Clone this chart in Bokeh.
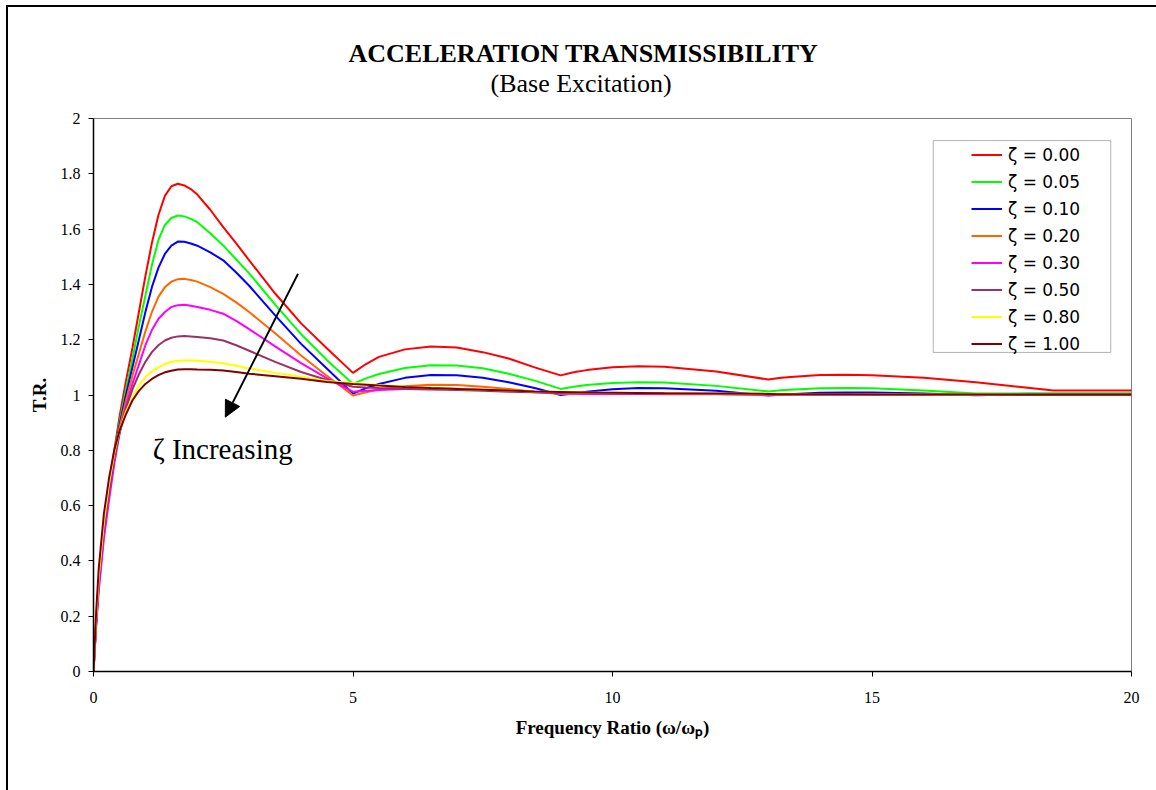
from bokeh.plotting import figure
from bokeh.models import (Legend, LegendItem, Arrow, NormalHead, Label, FixedTicker,
                          Range1d, BoxAnnotation, Title)
from bokeh.embed import file_html
from bokeh.resources import INLINE

# ---------------- data ----------------
x_ratio = [0, 0.05, 0.1, 0.2, 0.3, 0.4, 0.5, 0.625, 0.75, 0.875,
           1.0, 1.125, 1.25, 1.375, 1.5, 1.625, 1.75, 1.875, 2.0,
           2.25, 2.5, 2.75, 3.0,
           3.5, 4.0, 4.5, 5.0,
           5.25, 5.5, 6.0, 6.5, 7.0, 7.5, 8.0, 8.5, 9.0,
           9.25, 9.5, 10.0, 10.5, 11.0, 12.0, 13.0,
           13.25, 13.5, 14.0, 14.5, 15.0, 16.0, 17.0, 18.0, 18.5, 20.0]

tr_z000 = [0, 0.18, 0.33, 0.53, 0.67, 0.80, 0.92, 1.05, 1.17, 1.30,
           1.43, 1.55, 1.65, 1.72, 1.755, 1.764, 1.758, 1.745, 1.725,
           1.67, 1.607, 1.548, 1.487,
           1.367, 1.259, 1.168, 1.08,
           1.112, 1.138, 1.165, 1.175, 1.172, 1.155, 1.132, 1.10, 1.071,
           1.082, 1.090, 1.100, 1.104, 1.102, 1.085, 1.056,
           1.062, 1.066, 1.072, 1.073, 1.071, 1.062, 1.046, 1.026, 1.016, 1.016]
tr_z005 = [0, 0.17, 0.32, 0.52, 0.66, 0.79, 0.90, 1.02, 1.13, 1.25,
           1.36, 1.47, 1.56, 1.615, 1.64, 1.649, 1.646, 1.637, 1.625,
           1.585, 1.541, 1.49, 1.44,
           1.327, 1.22, 1.126, 1.04,
           1.06, 1.076, 1.098, 1.108, 1.107, 1.097, 1.077, 1.052, 1.022,
           1.030, 1.036, 1.043, 1.046, 1.045, 1.033, 1.013,
           1.017, 1.020, 1.024, 1.025, 1.024, 1.016, 1.005, 1.006, 1.006, 1.006]
tr_z010 = [0, 0.17, 0.31, 0.51, 0.65, 0.78, 0.89, 1.00, 1.10, 1.20,
           1.30, 1.39, 1.46, 1.51, 1.54, 1.555, 1.554, 1.548, 1.54,
           1.516, 1.487, 1.443, 1.395,
           1.288, 1.185, 1.095, 1.005,
           1.025, 1.040, 1.062, 1.072, 1.071, 1.062, 1.046, 1.025, 1.0,
           1.005, 1.012, 1.021, 1.025, 1.024, 1.015, 0.998,
           1.001, 1.004, 1.008, 1.009, 1.009, 1.005, 0.999, 1.002, 1.003, 1.003]
tr_z020 = [0, 0.17, 0.30, 0.50, 0.64, 0.77, 0.88, 0.98, 1.07, 1.15,
           1.23, 1.30, 1.355, 1.39, 1.41, 1.419, 1.42, 1.416, 1.41,
           1.39, 1.366, 1.335, 1.30,
           1.223, 1.143, 1.069, 0.998,
           1.010, 1.020, 1.032, 1.037, 1.036, 1.030, 1.022, 1.012, 1.004,
           1.004, 1.004, 1.006, 1.007, 1.007, 1.004, 1.000,
           1.001, 1.001, 1.002, 1.002, 1.002, 1.001, 1.000, 1.000, 1.000, 1.000]
tr_z030 = [0, 0.16, 0.29, 0.48, 0.62, 0.75, 0.86, 0.96, 1.04, 1.11,
           1.18, 1.235, 1.275, 1.30, 1.318, 1.325, 1.326, 1.323, 1.318,
           1.308, 1.294, 1.268, 1.238,
           1.176, 1.115, 1.060, 1.012,
           1.015, 1.018, 1.022, 1.024, 1.023, 1.019, 1.015, 1.010, 1.006,
           1.005, 1.004, 1.004, 1.004, 1.003, 1.003, 1.002,
           1.002, 1.002, 1.002, 1.002, 1.001, 1.001, 1.001, 1.001, 1.001, 1.001]
tr_z050 = [0, 0.18, 0.32, 0.51, 0.65, 0.77, 0.86, 0.95, 1.02, 1.075,
           1.12, 1.155, 1.18, 1.197, 1.207, 1.212, 1.213, 1.212, 1.21,
           1.205, 1.197, 1.18, 1.16,
           1.12, 1.083, 1.054, 1.03,
           1.027, 1.025, 1.022, 1.020, 1.018, 1.015, 1.012, 1.010, 1.008,
           1.008, 1.007, 1.006, 1.005, 1.005, 1.004, 1.003,
           1.003, 1.003, 1.002, 1.002, 1.002, 1.001, 1.001, 1.001, 1.001, 1.001]
tr_z080 = [0, 0.19, 0.34, 0.54, 0.68, 0.79, 0.87, 0.94, 0.99, 1.035,
           1.065, 1.086, 1.10, 1.112, 1.12, 1.124, 1.125, 1.125, 1.124,
           1.12, 1.115, 1.106, 1.096,
           1.080, 1.066, 1.051, 1.043,
           1.039, 1.036, 1.030, 1.026, 1.022, 1.019, 1.016, 1.013, 1.011,
           1.010, 1.009, 1.008, 1.007, 1.006, 1.005, 1.004,
           1.003, 1.003, 1.003, 1.003, 1.002, 1.002, 1.002, 1.001, 1.001, 1.001]
tr_z100 = [0, 0.21, 0.37, 0.57, 0.70, 0.80, 0.87, 0.93, 0.98, 1.015,
           1.04, 1.058, 1.072, 1.082, 1.088, 1.092, 1.093, 1.093, 1.092,
           1.091, 1.089, 1.083, 1.077,
           1.068, 1.059, 1.047, 1.040,
           1.037, 1.034, 1.029, 1.025, 1.022, 1.019, 1.016, 1.013, 1.011,
           1.010, 1.009, 1.008, 1.007, 1.006, 1.005, 1.004,
           1.003, 1.003, 1.003, 1.003, 1.002, 1.002, 1.002, 1.001, 1.001, 1.001]

series_labels = ["ζ = 0.00", "ζ = 0.05", "ζ = 0.10", "ζ = 0.20",
                 "ζ = 0.30", "ζ = 0.50", "ζ = 0.80", "ζ = 1.00"]
series_values = [tr_z000, tr_z005, tr_z010, tr_z020, tr_z030, tr_z050, tr_z080, tr_z100]
series_colors = ["#FF0000", "#00FF00", "#0000FF", "#FF6600",
                 "#FF00FF", "#993366", "#FFFF00", "#800000"]

x_ticks = [0, 5, 10, 15, 20]
y_ticks = [0, 0.2, 0.4, 0.6, 0.8, 1, 1.2, 1.4, 1.6, 1.8, 2]
y_tick_labels = ["0", "0.2", "0.4", "0.6", "0.8", "1", "1.2", "1.4", "1.6", "1.8", "2"]

title_text = "ACCELERATION TRANSMISSIBILITY"
subtitle_text = "(Base Excitation)"
x_label = "Frequency Ratio (ω/ωₚ)"
y_label = "T.R."
note_text = "ζ Increasing"

SERIF = "Liberation Serif"

# ---------------- figure ----------------
p = figure(width=1148, height=783, output_backend="svg", toolbar_location=None,
           x_range=Range1d(0, 20), y_range=Range1d(0, 2),
           min_border_left=85, min_border_right=25, min_border_top=111, min_border_bottom=119,
           background_fill_color="white", border_fill_color="white")
p.styles = {"margin-left": "8px", "margin-top": "7px", "outline": "2px solid black"}

p.xgrid.visible = False
p.ygrid.visible = False
p.outline_line_color = "#808080"
p.outline_line_width = 1

for ax in (p.xaxis[0], p.yaxis[0]):
    ax.axis_line_color = "black"
    ax.axis_line_width = 1.5
    ax.major_tick_line_color = "black"
    ax.major_tick_in = 0
    ax.major_tick_out = 5
    ax.minor_tick_line_color = None
    ax.major_label_text_font = SERIF
    ax.major_label_text_font_size = "16px"
    ax.major_label_text_color = "black"
    ax.axis_label_text_font = SERIF
    ax.axis_label_text_font_style = "bold"
    ax.axis_label_text_font_size = "19px"
    ax.axis_label_text_color = "black"

p.xaxis.ticker = FixedTicker(ticks=x_ticks)
p.yaxis.ticker = FixedTicker(ticks=y_ticks)
p.yaxis.major_label_overrides = dict(zip(y_ticks, y_tick_labels))
p.xaxis.axis_label = x_label
p.yaxis.axis_label = y_label
p.xaxis.major_label_standoff = 15
p.xaxis.axis_label_standoff = 11
p.yaxis.major_label_standoff = 8
p.yaxis.axis_label_standoff = 8

renderers = []
for vals, col in zip(series_values, series_colors):
    r = p.line(x_ratio, vals, line_color=col, line_width=2)
    renderers.append(r)

# legend frame
box = BoxAnnotation(left=16.18, right=19.6, top=1.92, bottom=1.154,
                    fill_color="white", fill_alpha=1.0, line_color="black", line_width=1)
p.add_layout(box)

legend = Legend(items=[LegendItem(label=lab, renderers=[r]) for lab, r in zip(series_labels, renderers)],
                location=(878, 317), padding=0, margin=0, spacing=6,
                glyph_width=31, glyph_height=21, label_height=21, label_standoff=6,
                label_text_font="DejaVu Sans", label_text_font_size="17px",
                label_text_color="black",
                border_line_alpha=0, background_fill_alpha=0)
p.add_layout(legend)

# annotation arrow + text
p.add_layout(Arrow(end=NormalHead(size=16, fill_color="black", line_color="black"),
                   x_start=3.94, y_start=1.438, x_end=2.54, y_end=0.92,
                   line_color="black", line_width=2))
p.add_layout(Label(x=1.14, y=0.805, text=note_text, text_font=SERIF,
                   text_font_size="29px", text_baseline="alphabetic", text_color="black"))

# titles (subtitle first = closest to the frame)
p.add_layout(Title(text=subtitle_text, align="left", offset=397, standoff=42,
                   text_font=SERIF, text_font_style="normal", text_font_size="26px",
                   text_color="black"), "above")
p.add_layout(Title(text=title_text, align="left", offset=255, standoff=-45,
                   text_font=SERIF, text_font_style="bold", text_font_size="26px",
                   text_color="black"), "above")

open("out.html", "w").write(file_html(p, INLINE))
